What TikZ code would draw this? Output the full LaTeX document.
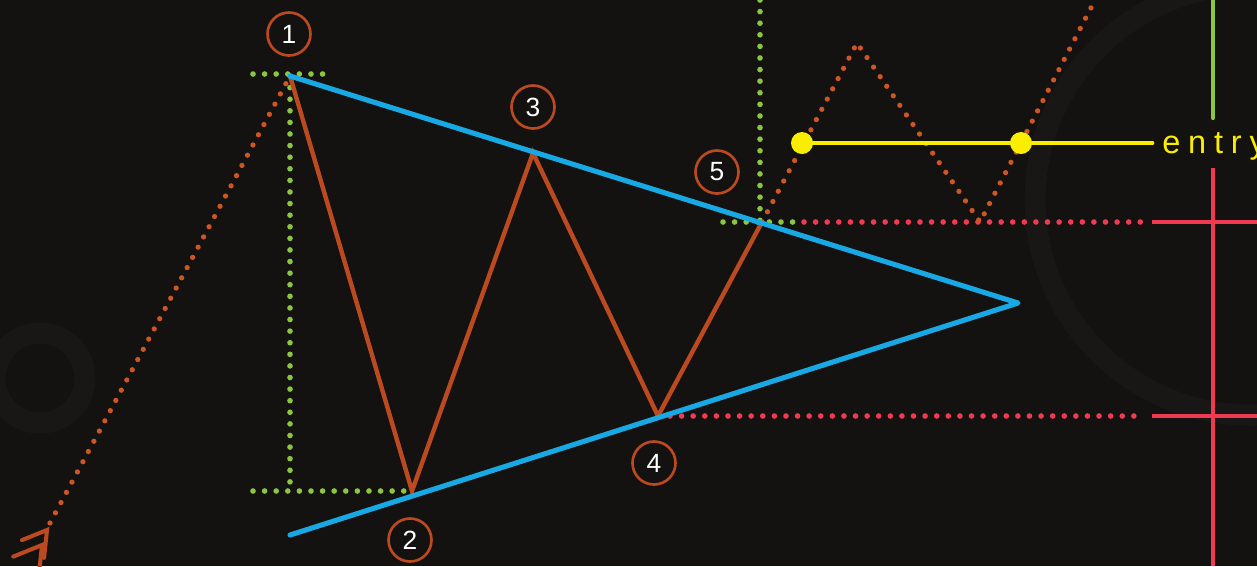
\documentclass[tikz,border=0pt]{standalone}
\usepackage{fontspec}
\setsansfont{Liberation Sans}
\newfontfamily\entryfont{Liberation Sans}[LetterSpace=24]
\usetikzlibrary{arrows.meta, positioning}
\definecolor{bgdark}{RGB}{20,18,16}
\definecolor{ghostgray}{RGB}{25,23,21}
\definecolor{wedgeblue}{RGB}{24,168,228}
\definecolor{rust}{RGB}{188,74,32}
\definecolor{rustdot}{RGB}{204,86,36}
\definecolor{limegreen}{RGB}{138,198,66}
\definecolor{hotred}{RGB}{240,58,82}
\definecolor{entryyellow}{RGB}{250,238,0}
\tikzset{
  wedge/.style     = {draw=wedgeblue, line width=2.9pt, line cap=round, line join=round},
  swing/.style     = {draw=rust, line width=2.5pt, line join=miter},
  rustdots/.style  = {draw=rustdot, line width=3pt, line cap=round,
                      dash pattern=on 0pt off 6.6pt},
  greendots/.style = {draw=limegreen, line width=3.2pt, line cap=round,
                      dash pattern=on 0pt off 6.6pt},
  reddots/.style   = {draw=hotred, line width=3.2pt, line cap=round,
                      dash pattern=on 0pt off 6.6pt},
  redbar/.style    = {draw=hotred, line width=2.4pt},
  greenbar/.style  = {draw=limegreen, line width=2.4pt, line cap=round},
  entryline/.style = {draw=entryyellow, line width=2.8pt, line cap=round},
  entrydot/.style  = {circle, fill=entryyellow, minimum size=0.44cm, inner sep=0pt},
  entrytext/.style = {text=entryyellow, font=\entryfont\fontsize{18.5}{20}\selectfont,
                      inner sep=0pt},
  numc/.style      = {circle, draw=rust, line width=1.5pt, minimum size=0.86cm,
                      inner sep=0pt, text=white, font=\sffamily\fontsize{15}{15}\selectfont},
  ghost/.style     = {draw=ghostgray, line width=12pt},
  fletchline/.style= {draw=rust, line width=2.3pt, line cap=round, line join=miter},
}
\begin{document}
\begin{tikzpicture}[x=0.02cm, y=-0.02cm]
  \useasboundingbox (0,0) rectangle (1257,566);
  \fill[bgdark] (0,0) rectangle (1257,566);
  \clip (0,0) rectangle (1257,566);
  % faint marks in the backdrop
  \draw[ghost] (40,378) circle [radius=45];
  \draw[ghost] (1250,200) circle [radius=215];

  % swing points of the pattern
  \coordinate (p1) at (290,76);
  \coordinate (p2) at (412,491);
  \coordinate (p3) at (533,153);
  \coordinate (p4) at (658,416);
  \coordinate (p5) at (762,222);
  \coordinate (apex) at (1018,303);
  \coordinate (low) at (290,535);
  \coordinate (tail) at (50,523);
  \coordinate (f1) at (47,530);
  \coordinate (f2) at (42,545);
  \coordinate (peak) at (857,43);
  \coordinate (retest) at (980,222);
  \coordinate (exit) at (1095,0);

  % height guides
  \draw[greendots] (253,74) -- (328,74);
  \draw[greendots] (p1) -- (p1 |- p2);
  \draw[greendots] (253,491) -- (p2);
  \draw[greendots] (723,222) -- (797,222);
  \draw[greendots] (760,0) -- (760,222);

  % levels to the right
  \draw[reddots] (804,222) -- (1145,222);
  \draw[reddots] (670,416) -- (1145,416);
  \draw[redbar] (1152,222) -- (1257,222);
  \draw[redbar] (1152,416) -- (1257,416);
  \draw[redbar] (1213,168) -- (1213,566);
  \draw[greenbar] (1213,-5) -- (1213,118);

  % price path with its tail
  \draw[rustdots] (tail) -- (p1);
  \draw[fletchline] (f1) ++(158:27) -- (f1) -- ++(96:28);
  \draw[fletchline] (f2) ++(158:31) -- (f2) -- ++(96:30);
  \draw[swing] (p1) -- (p2) -- (p3) -- (p4) -- (p5);
  \draw[rustdots] (p5) -- (peak) -- (retest) -- (exit);

  % triangle
  \draw[wedge] (p1) -- (apex) -- (low);

  % entry
  \node[entrydot] (e1) at (802,143) {};
  \node[entrydot] (e2) at (1021,143) {};
  \node[entrytext, anchor=west] (etext) at (1162,146) {entry};
  \draw[entryline] (e1.center) -- (1152,143);

  % numbered points
  \node[numc] (n1) at (289,34)  {1};
  \node[numc] (n2) at (410,540) {2};
  \node[numc] (n3) at (533,107) {3};
  \node[numc] (n4) at (654,463) {4};
  \node[numc] (n5) at (717,172) {5};
\end{tikzpicture}
\end{document}
